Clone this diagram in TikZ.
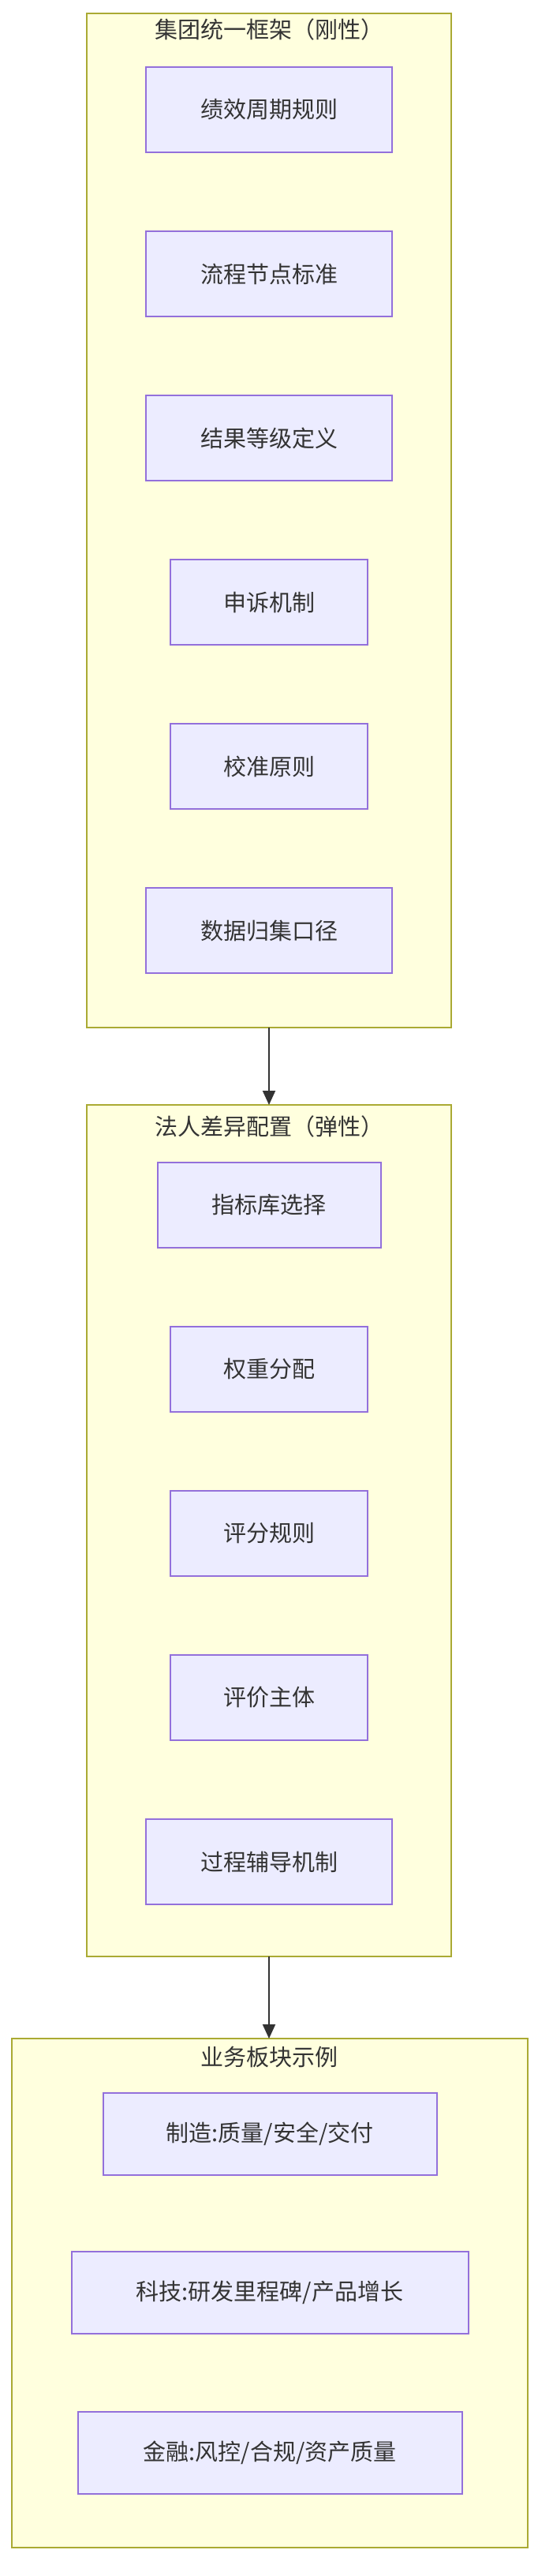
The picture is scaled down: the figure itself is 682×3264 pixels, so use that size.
\documentclass[tikz,border=0pt]{standalone}
\usepackage{fontspec}
\setmainfont{Noto Sans CJK SC}
\usetikzlibrary{arrows.meta}
\definecolor{cfill}{HTML}{FFFFDE}
\definecolor{cdraw}{HTML}{AAAA33}
\definecolor{nfill}{HTML}{ECECFF}
\definecolor{ndraw}{HTML}{9370DB}
\definecolor{tc}{HTML}{333333}
\tikzset{
  clus/.style={fill=cfill,draw=cdraw,line width=2pt},
  nbox/.style={fill=nfill,draw=ndraw,line width=2pt,minimum height=108pt,text=tc,font=\fontsize{29}{34}\selectfont,inner sep=0pt},
  ttl/.style={text=tc,font=\fontsize{29}{34}\selectfont,inner sep=0pt},
  arr/.style={draw=tc,line width=2pt,-{Triangle[length=18pt,width=16pt]}}
}
\begin{document}
\begin{tikzpicture}[x=1pt,y=-1pt]
\useasboundingbox (0,0) rectangle (682,3264);
\path[clus] (110,17) rectangle (572,1302);
\path[clus] (110,1400) rectangle (572,2479);
\path[clus] (15,2583) rectangle (669,3228);
\node[ttl] (t1) at (341,37) {集团统一框架（刚性）};
\node[ttl] (t2) at (341,1427) {法人差异配置（弹性）};
\node[ttl] (t3) at (341,2606) {业务板块示例};
\coordinate (c1b) at (341,1302);
\coordinate (c2t) at (341,1400);
\coordinate (c2b) at (341,2479);
\coordinate (c3t) at (341,2583);
\node[nbox,minimum width=312pt] (a1) at (341,139) {绩效周期规则};
\node[nbox,minimum width=312pt] (a2) at (341,347) {流程节点标准};
\node[nbox,minimum width=312pt] (a3) at (341,555) {结果等级定义};
\node[nbox,minimum width=250pt] (a4) at (341,763) {申诉机制};
\node[nbox,minimum width=250pt] (a5) at (341,971) {校准原则};
\node[nbox,minimum width=312pt] (a6) at (341,1179) {数据归集口径};
\node[nbox,minimum width=283pt] (b1) at (341,1527) {指标库选择};
\node[nbox,minimum width=250pt] (b2) at (341,1735) {权重分配};
\node[nbox,minimum width=250pt] (b3) at (341,1943) {评分规则};
\node[nbox,minimum width=250pt] (b4) at (341,2151) {评价主体};
\node[nbox,minimum width=312pt] (b5) at (341,2359) {过程辅导机制};
\node[nbox,minimum width=423pt,minimum height=104pt] (d1) at (342,2704) {制造:质量/安全/交付};
\node[nbox,minimum width=503pt,minimum height=104pt] (d2) at (342,2905) {科技:研发里程碑/产品增长};
\node[nbox,minimum width=487pt,minimum height=104pt] (d3) at (342,3108) {金融:风控/合规/资产质量};
\draw[arr] (c1b) -- (c2t);
\draw[arr] (c2b) -- (c3t);
\end{tikzpicture}
\end{document}
